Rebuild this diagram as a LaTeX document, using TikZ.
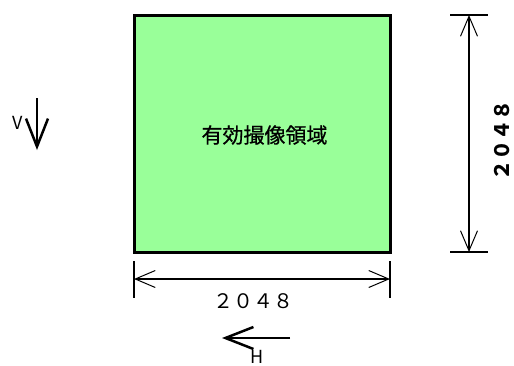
\documentclass[tikz,border=0pt]{standalone}
\usepackage{fontspec}
\newfontfamily\cjk{Noto Sans CJK JP}
\newfontfamily\cjkmed[FakeBold=0.7]{Noto Sans CJK JP}
\usetikzlibrary{arrows.meta}
\definecolor{areagreen}{RGB}{153,255,153}
\tikzset{
  box/.style={draw, line width=3pt, fill=areagreen, minimum width=256pt, minimum height=237pt, inner sep=0pt, outer sep=0pt},
  extline/.style={line width=1.2pt},
  dimline/.style={line width=1.2pt, {Straight Barb[length=20pt,width=17pt,line width=1pt]}-{Straight Barb[length=20pt,width=17pt,line width=1pt]}},
  dirarrow/.style={line width=2.5pt, -{Straight Barb[length=28pt,width=22pt,line width=2.5pt]}},
  lbl/.style={font=\cjk\fontsize{20pt}{20pt}\selectfont, inner sep=0pt},
  small/.style={font=\cjk\fontsize{18pt}{18pt}\selectfont, inner sep=0pt}
}
\begin{document}
\begin{tikzpicture}[x=1pt,y=-1pt]
\useasboundingbox (0,0) rectangle (514,365);
\node[box] (area) at (262,133.5) {};
\node[font=\cjkmed\fontsize{21pt}{21pt}\selectfont, inner sep=0pt] (title) at (264.5,135) {有効撮像領域};
% right dimension
\coordinate (rt1) at (450,15); \coordinate (rt2) at (488,15);
\coordinate (rb1) at (450,252); \coordinate (rb2) at (488,252);
\coordinate (rtop) at (469,15); \coordinate (rbot) at (469,252);
\draw[extline] (rt1) -- (rt2);
\draw[extline] (rb1) -- (rb2);
\draw[dimline] (rtop) -- (rbot);
\node[lbl, font=\cjk\bfseries\fontsize{20pt}{20pt}\selectfont, rotate=90] (rdim) at (502,140) {２０４８};
% bottom dimension
\coordinate (bl1) at (134,261); \coordinate (bl2) at (134,298);
\coordinate (br1) at (390,261); \coordinate (br2) at (390,298);
\coordinate (bleft) at (134,279); \coordinate (bright) at (390,279);
\draw[extline] (bl1) -- (bl2);
\draw[extline] (br1) -- (br2);
\draw[dimline] (bleft) -- (bright);
\node[lbl] (bdim) at (253,301) {２０４８};
% V arrow
\coordinate (v1) at (37,98); \coordinate (v2) at (37,150);
\draw[dirarrow] (v1) -- (v2);
\node[small] (vl) at (18,123) {V};
% H arrow
\coordinate (h1) at (290,338); \coordinate (h2) at (222,338);
\draw[dirarrow] (h1) -- (h2);
\node[small] (hl) at (257,357) {H};
\end{tikzpicture}
\end{document}
